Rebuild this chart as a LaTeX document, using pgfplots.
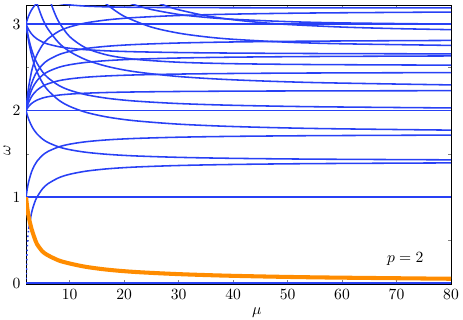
\documentclass[border=0pt]{standalone}
\usepackage{pgfplots}
\pgfplotsset{compat=1.18}
\definecolor{lineblue}{RGB}{40,64,245}
\definecolor{lineorange}{RGB}{255,140,0}
\begin{document}
\begin{tikzpicture}
\begin{axis}[
  scale only axis, width=272.5pt, height=178.8pt,
  xmin=2, xmax=80, ymin=0, ymax=3.22,
  xtick={10,20,...,80}, ytick={0,0.5,...,3}, yticklabels={0,,1,,2,,3},
  tick align=inside, major tick length=2.2pt,
  xlabel={$\mu$}, ylabel={$\omega$},
  xlabel style={at={(axis description cs:0.543,0)}, anchor=center, yshift=-18.6pt},
  ylabel style={at={(axis description cs:0,0.48)}, anchor=center, yshift=12.2pt},
  bl/.style={color=lineblue, line width=1pt, smooth, no markers},
  hl/.style={color=lineblue, line width=1pt, sharp plot, no markers},
]
% branch from 0, dotted start
\addplot[bl, dotted] coordinates {(2,0) (2.25,0.4714) (2.5,0.6325)};
\addplot[bl] coordinates {(2.5,0.6325) (3,0.8165) (3.5,0.9258) (4,1) (5,1.0954) (6,1.1547) (8,1.2247) (10,1.2649) (13,1.3009) (17,1.3284) (22,1.3484) (30,1.3663) (40,1.3784) (55,1.3883) (80,1.3964)};
% branches from 1
\addplot[bl] coordinates {(2,1) (2.25,1.1055) (2.5,1.1832) (3,1.2910) (3.5,1.3628) (4,1.4142) (5,1.4832) (6,1.5275) (8,1.5811) (10,1.6125) (13,1.6408) (17,1.6627) (22,1.6787) (30,1.6931) (40,1.7029) (55,1.7109) (80,1.7176)};
% branches from 2
\addplot[bl] coordinates {(2,2) (2.25,1.9437) (2.5,1.8974) (3,1.8257) (3.5,1.7728) (4,1.7321) (5,1.6733) (6,1.6330) (8,1.5811) (10,1.5492) (13,1.5191) (17,1.4951) (22,1.4771) (30,1.4606) (40,1.4491) (55,1.4397) (80,1.4318)};
\addplot[bl] coordinates {(2,2) (2.25,2.0276) (2.5,2.0494) (3,2.0817) (3.5,2.1044) (4,2.1213) (5,2.1448) (6,2.1602) (8,2.1794) (10,2.1909) (13,2.2014) (17,2.2096) (22,2.2156) (30,2.2211) (40,2.2249) (55,2.2279) (80,2.2305)};
\addplot[bl] coordinates {(2,2) (2.25,2.0548) (2.5,2.0976) (3,2.1602) (3.5,2.2039) (4,2.2361) (5,2.2804) (6,2.3094) (8,2.3452) (10,2.3664) (13,2.3859) (17,2.4010) (22,2.4121) (30,2.4221) (40,2.4290) (55,2.4346) (80,2.4393)};
\addplot[bl] coordinates {(2,2) (2.25,2.0817) (2.5,2.1448) (3,2.2361) (3.5,2.2991) (4,2.3452) (5,2.4083) (6,2.4495) (8,2.5) (10,2.5298) (13,2.5571) (17,2.5782) (22,2.5937) (30,2.6077) (40,2.6173) (55,2.6251) (80,2.6315)};
\addplot[bl] coordinates {(2,2) (2.25,2.1082) (2.5,2.1909) (3,2.3094) (3.5,2.3905) (4,2.4495) (5,2.5298) (6,2.5820) (8,2.6458) (10,2.6833) (13,2.7175) (17,2.7440) (22,2.7634) (30,2.7809) (40,2.7928) (55,2.8026) (80,2.8107)};
\addplot[bl] coordinates {(2,2) (2.25,2.1602) (2.5,2.2804) (3,2.4495) (3.5,2.5635) (4,2.6458) (5,2.7568) (6,2.8284) (8,2.9155) (10,2.9665) (13,3.0128) (17,3.0486) (22,3.0748) (30,3.0984) (40,3.1145) (55,3.1276) (80,3.1385)};
% branches from 3
\addplot[bl] coordinates {(2,3) (2.25,2.8868) (2.5,2.7928) (3,2.6458) (3.5,2.5355) (4,2.4495) (5,2.3238) (6,2.2361) (8,2.1213) (10,2.0494) (13,1.9807) (17,1.9251) (22,1.8830) (30,1.8439) (40,1.8166) (55,1.7939) (80,1.7748)};
\addplot[bl] coordinates {(2,3) (2.25,2.906) (2.5,2.8284) (3,2.708) (3.5,2.6186) (4,2.5495) (5,2.4495) (6,2.3805) (8,2.2913) (10,2.2361) (13,2.1839) (17,2.1420) (22,2.1106) (30,2.0817) (40,2.0616) (55,2.0450) (80,2.0310)};
\addplot[bl] coordinates {(2,3) (2.25,2.9627) (2.5,2.9326) (3,2.8868) (3.5,2.8536) (4,2.8284) (5,2.7928) (6,2.7689) (8,2.7386) (10,2.7203) (13,2.7033) (17,2.6899) (22,2.6799) (30,2.6708) (40,2.6646) (55,2.6595) (80,2.6552)};
\addplot[bl] coordinates {(2,3) (2.25,3.055) (2.5,3.098) (3,3.162) (3.5,3.207) (4,3.240) (5,3.286)};
% branches entering from above
\addplot[bl] coordinates {(2,4) (2.25,3.844) (2.5,3.715) (3,3.512) (3.5,3.359) (4,3.240) (5,3.066) (6,2.944) (8,2.784) (10,2.683) (13,2.587) (17,2.509) (22,2.449) (30,2.394) (40,2.356) (55,2.324) (80,2.297)};
\addplot[bl] coordinates {(6,3.369) (6.5,3.257) (7,3.166) (8,3.027) (10,2.855) (13,2.723) (17,2.641) (22,2.593) (30,2.559) (40,2.542) (55,2.532) (80,2.525)};
\addplot[bl] coordinates {(8,3.240) (10,3.221) (13,3.207) (17,3.198) (22,3.193) (30,3.190) (40,3.188) (55,3.187) (80,3.1865)};
\addplot[bl] coordinates {(15,3.344) (16,3.276) (17,3.218) (20,3.090) (25,2.965) (30,2.895) (35,2.852) (40,2.824) (50,2.790) (60,2.772) (80,2.753)};
\addplot[bl] coordinates {(20,3.268) (22,3.220) (25,3.168) (30,3.111) (35,3.077) (40,3.055) (50,3.028) (60,3.013) (80,2.999)};
\addplot[bl] coordinates {(26,3.249) (28,3.203) (30,3.165) (35,3.096) (40,3.050) (45,3.018) (50,2.995) (60,2.965) (70,2.947) (80,2.935)};
% flat branches
\addplot[hl, line width=2pt] coordinates {(2,0) (41,0) (80,0)};
\addplot[hl] coordinates {(2,1) (41,1) (80,1)};
\addplot[hl] coordinates {(2,2) (41,2) (80,2)};
\addplot[hl] coordinates {(2,3) (41,3) (80,3)};
% soft mode
\addplot[color=lineorange, line width=2.6pt, smooth, no markers] coordinates {(2,1) (2.25,0.865) (2.5,0.768) (3,0.637) (3.5,0.54) (4,0.46) (5,0.375) (6,0.33) (8,0.27) (10,0.235) (13,0.196) (17,0.163) (22,0.137) (30,0.112) (40,0.0924) (55,0.0748) (80,0.0584)};
\node at (axis cs:71.6,0.29) {$p=2$};
\coordinate (O) at (rel axis cs:0,0);
\coordinate (T) at (rel axis cs:1,1);
\end{axis}
\pgfresetboundingbox
\path ([shift={(-16.7pt,-23.1pt)}]O) rectangle ([shift={(7.7pt,3.2pt)}]T);
\end{tikzpicture}
\end{document}
